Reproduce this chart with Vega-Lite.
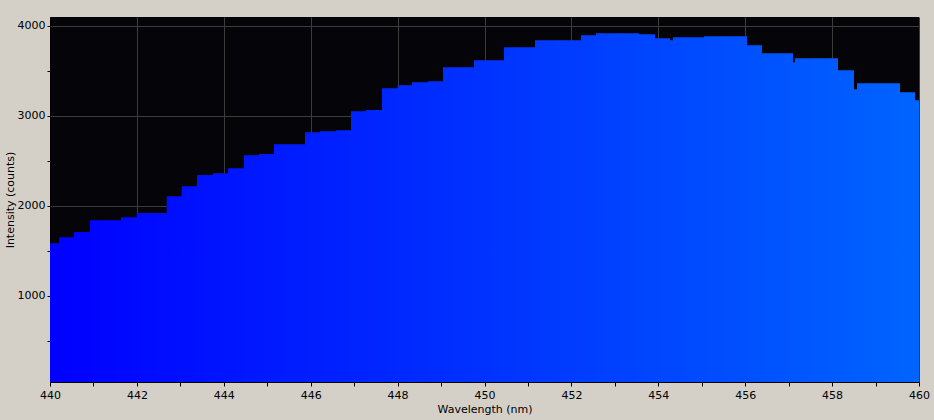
{
  "$schema": "https://vega.github.io/schema/vega-lite/v6.json",
  "width": 869,
  "height": 365,
  "autosize": {"type": "none"},
  "padding": {"left": 50, "top": 17, "right": 15, "bottom": 38},
  "background": "#d4d0c8",
  "config": {
    "view": {"fill": "#050408", "stroke": null},
    "axis": {
      "labelFont": "DejaVu Sans",
      "labelFontSize": 11,
      "labelColor": "#000000",
      "titleFont": "DejaVu Sans",
      "titleFontSize": 11,
      "titleFontWeight": "normal",
      "titleColor": "#000000",
      "domainColor": "#000000",
      "domainWidth": 1,
      "tickColor": "#000000",
      "tickWidth": 1,
      "gridColor": "#3c3c3c",
      "gridWidth": 1,
      "labelOverlap": false,
      "labelFlush": false
    }
  },
  "data": {
    "values": [
      {"wavelength": 440.000, "intensity": 1582},
      {"wavelength": 440.207, "intensity": 1648},
      {"wavelength": 440.552, "intensity": 1707},
      {"wavelength": 440.921, "intensity": 1837},
      {"wavelength": 441.634, "intensity": 1870},
      {"wavelength": 441.995, "intensity": 1918},
      {"wavelength": 442.686, "intensity": 2104},
      {"wavelength": 443.031, "intensity": 2215},
      {"wavelength": 443.383, "intensity": 2341},
      {"wavelength": 443.745, "intensity": 2359},
      {"wavelength": 444.097, "intensity": 2415},
      {"wavelength": 444.465, "intensity": 2559},
      {"wavelength": 444.810, "intensity": 2574},
      {"wavelength": 445.155, "intensity": 2681},
      {"wavelength": 445.869, "intensity": 2815},
      {"wavelength": 446.214, "intensity": 2826},
      {"wavelength": 446.582, "intensity": 2837},
      {"wavelength": 446.927, "intensity": 3048},
      {"wavelength": 447.273, "intensity": 3063},
      {"wavelength": 447.641, "intensity": 3304},
      {"wavelength": 448.002, "intensity": 3337},
      {"wavelength": 448.331, "intensity": 3370},
      {"wavelength": 448.700, "intensity": 3381},
      {"wavelength": 449.045, "intensity": 3537},
      {"wavelength": 449.758, "intensity": 3615},
      {"wavelength": 450.449, "intensity": 3759},
      {"wavelength": 451.162, "intensity": 3837},
      {"wavelength": 452.221, "intensity": 3893},
      {"wavelength": 452.566, "intensity": 3915},
      {"wavelength": 453.556, "intensity": 3904},
      {"wavelength": 453.924, "intensity": 3859},
      {"wavelength": 454.269, "intensity": 3837},
      {"wavelength": 454.338, "intensity": 3870},
      {"wavelength": 455.052, "intensity": 3881},
      {"wavelength": 456.041, "intensity": 3781},
      {"wavelength": 456.387, "intensity": 3693},
      {"wavelength": 457.100, "intensity": 3593},
      {"wavelength": 457.146, "intensity": 3637},
      {"wavelength": 458.136, "intensity": 3504},
      {"wavelength": 458.504, "intensity": 3293},
      {"wavelength": 458.573, "intensity": 3359},
      {"wavelength": 459.563, "intensity": 3259},
      {"wavelength": 459.908, "intensity": 3170},
      {"wavelength": 460.000, "intensity": 3170}
    ]
  },
  "mark": {
    "type": "area",
    "interpolate": "step-after",
    "clip": true,
    "opacity": 1,
    "fill": {
      "gradient": "linear",
      "x1": 0, "y1": 0, "x2": 1, "y2": 0,
      "stops": [
        {"offset": 0, "color": "#0000ff"},
        {"offset": 1, "color": "#0064ff"}
      ]
    }
  },
  "encoding": {
    "x": {
      "field": "wavelength",
      "type": "quantitative",
      "scale": {"domain": [440, 460], "nice": false, "zero": false},
      "axis": {
        "title": "Wavelength (nm)",
        "values": [440,441,442,443,444,445,446,447,448,449,450,451,452,453,454,455,456,457,458,459,460],
        "format": "d",
        "labelExpr": "datum.value % 2 === 0 ? datum.label : ''",
        "gridOpacity": {"condition": {"test": "datum.value % 2 === 0", "value": 1}, "value": 0},
        "tickSize": 4,
        "labelPadding": 3,
        "titlePadding": 3
      }
    },
    "y": {
      "field": "intensity",
      "type": "quantitative",
      "scale": {"domain": [40, 4095], "nice": false, "zero": false},
      "axis": {
        "title": "Intensity (counts)",
        "values": [500,1000,1500,2000,2500,3000,3500,4000],
        "format": "d",
        "labelExpr": "datum.value % 1000 === 0 ? datum.label : ''",
        "gridOpacity": {"condition": {"test": "datum.value % 1000 === 0", "value": 1}, "value": 0},
        "tickSize": 3,
        "labelPadding": 2,
        "titlePadding": 2
      }
    }
  }
}
